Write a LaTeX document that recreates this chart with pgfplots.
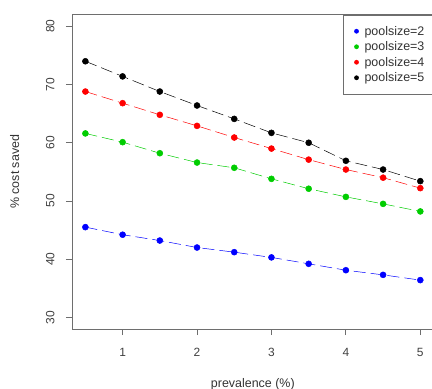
\documentclass[border=0pt]{standalone}
\usepackage{pgfplots}
\pgfplotsset{compat=1.18}
\usepackage{fontspec}
\setmainfont{Liberation Sans}
\definecolor{rgreen}{RGB}{0,205,0}
\definecolor{axgray}{RGB}{110,110,110}
\begin{document}
\begin{tikzpicture}
\clip (-72bp,-60bp) rectangle (360bp,329bp);
\begin{axis}[
  at={(0,0)}, anchor=south west,
  scale only axis,
  width=361.7bp, height=314.3bp,
  xmin=0.32, xmax=5.18, ymin=28, ymax=82,
  xtick={1,2,3,4,5}, ytick={30,40,50,60,70,80},
  xtick pos=bottom, ytick pos=left,
  axis line style={axgray, line width=0.8pt},
  tick style={axgray, line width=0.8pt},
  tick align=outside, major tick length=6bp,
  tick label style={font=\fontsize{12}{14}\selectfont, text=black!75},
  yticklabel style={rotate=90, anchor=south, xshift=0bp, yshift=8bp},
  xticklabel style={yshift=-10bp},
  /pgf/number format/assume math mode=true,
  xlabel={prevalence (\%)}, ylabel={\% cost saved},
  label style={font=\fontsize{12.5}{14}\selectfont, text=black!80},
  xlabel style={yshift=-15bp},
  ylabel style={yshift=20bp},
  legend style={at={(1,1)}, anchor=north east, draw=axgray, line width=0.6pt,
    font=\fontsize{12.5}{15.3}\selectfont, text=black!80, row sep=1bp,
    inner xsep=7bp, inner ysep=9bp},
  legend image code/.code={\path[draw=none,fill=none] (-3bp,0) -- (9bp,0); \fill[#1, draw=none] (3bp,0) circle (2.4bp);},
  legend cell align=left,
  every axis plot/.append style={line width=0.5pt, dash pattern=on 12bp off 5bp, mark=*, mark size=3bp, mark options={solid}},
]
\addplot[color=blue] coordinates {(0.5,45.5)(1,44.2)(1.5,43.2)(2,42.0)(2.5,41.2)(3,40.3)(3.5,39.2)(4,38.1)(4.5,37.3)(5,36.4)};
\addlegendentry{poolsize=2}
\addplot[color=rgreen] coordinates {(0.5,61.6)(1,60.1)(1.5,58.2)(2,56.6)(2.5,55.7)(3,53.8)(3.5,52.1)(4,50.7)(4.5,49.5)(5,48.2)};
\addlegendentry{poolsize=3}
\addplot[color=red] coordinates {(0.5,68.8)(1,66.8)(1.5,64.8)(2,62.9)(2.5,60.9)(3,59.0)(3.5,57.1)(4,55.4)(4.5,54.0)(5,52.2)};
\addlegendentry{poolsize=4}
\addplot[color=black] coordinates {(0.5,74.0)(1,71.4)(1.5,68.8)(2,66.4)(2.5,64.1)(3,61.7)(3.5,60.0)(4,56.9)(4.5,55.4)(5,53.4)};
\addlegendentry{poolsize=5}
\end{axis}
\end{tikzpicture}
\end{document}
